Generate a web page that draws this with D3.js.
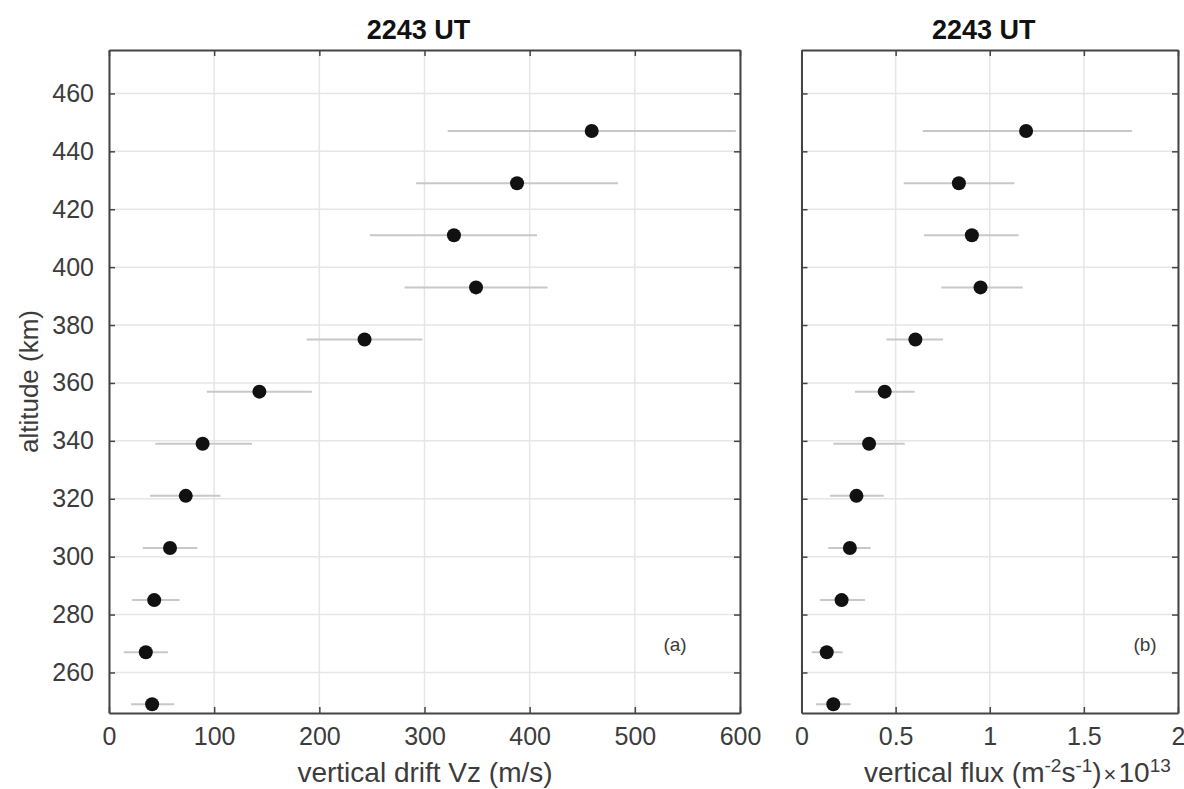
<!DOCTYPE html>
<html>
<head>
<meta charset="utf-8">
<script src="https://cdn.jsdelivr.net/npm/d3@7"></script>
<style>
  body { margin: 0; background: #fff; }
  text { font-family: "Liberation Sans", Arial, sans-serif; }
</style>
</head>
<body>
<svg id="main_chart" width="1184" height="789"></svg>
<script>
// altitude of each sample (km)
const altitudes = [447, 429, 411, 393, 375, 357, 339, 321, 303, 285, 267, 249];

// panel (a): vertical drift Vz (m/s) with error range
const vz   = [459, 388, 328, 349, 243, 143, 89, 73, 58, 43, 35, 41];
const vzLo = [322, 292, 248, 281, 188, 93, 44, 39, 32, 22, 14, 21];
const vzHi = [596, 484, 407, 417, 298, 193, 136, 106, 84, 67, 56, 62];

// panel (b): vertical flux (x 10^13 m^-2 s^-1) with error range
const flux   = [1.193, 0.836, 0.905, 0.951, 0.605, 0.442, 0.359, 0.292, 0.257, 0.213, 0.134, 0.169];
const fluxLo = [0.644, 0.543, 0.651, 0.743, 0.451, 0.284, 0.169, 0.151, 0.142, 0.098, 0.054, 0.077];
const fluxHi = [1.755, 1.131, 1.153, 1.175, 0.752, 0.601, 0.548, 0.437, 0.367, 0.337, 0.218, 0.261];

const yTicks = [260, 280, 300, 320, 340, 360, 380, 400, 420, 440, 460];
const vzTicks = [0, 100, 200, 300, 400, 500, 600];
const fluxTicks = [0, 0.5, 1, 1.5, 2];

const svg = d3.select("#main_chart");
const plotTop = 50, plotBottom = 713;
const textColor = "#3c3c3c";

let yScale = d3.scaleLinear().domain([246, 475]).range([plotBottom, plotTop]);

function panel(opts) {
    let x = d3.scaleLinear().domain(opts.domain).range([opts.left, opts.right]);
    let g = svg.append("g");
    let w = opts.right - opts.left, h = plotBottom - plotTop;

    let clipId = "clip" + opts.id;
    g.append("clipPath").attr("id", clipId)
        .append("rect").attr("x", opts.left).attr("y", plotTop).attr("width", w).attr("height", h);

    // grid
    g.append("g").selectAll("line").data(opts.ticks).enter().append("line")
        .attr("x1", d => x(d)).attr("x2", d => x(d))
        .attr("y1", plotTop).attr("y2", plotBottom)
        .attr("stroke", "#e6e6e6").attr("stroke-width", 1.5);
    g.append("g").selectAll("line").data(yTicks).enter().append("line")
        .attr("x1", opts.left).attr("x2", opts.right)
        .attr("y1", d => yScale(d)).attr("y2", d => yScale(d))
        .attr("stroke", "#e6e6e6").attr("stroke-width", 1.5);

    let rows = altitudes.map((a, i) => ({alt: a, v: opts.vals[i], lo: opts.lo[i], hi: opts.hi[i]}));
    let marks = g.append("g").attr("clip-path", "url(#" + clipId + ")");

    // error bars
    marks.selectAll("line.err").data(rows).enter().append("line")
        .attr("class", "err")
        .attr("x1", d => x(d.lo)).attr("x2", d => x(d.hi))
        .attr("y1", d => yScale(d.alt)).attr("y2", d => yScale(d.alt))
        .attr("stroke", "#c8c8c8").attr("stroke-width", 2);

    // points
    marks.selectAll("circle").data(rows).enter().append("circle")
        .attr("cx", d => x(d.v)).attr("cy", d => yScale(d.alt))
        .attr("r", 7).attr("fill", "#111");

    // axes (ticks inside, box on)
    let axColor = "#444";
    let ax = [
        {gen: d3.axisBottom(x).tickValues(opts.ticks).tickFormat(d3.format("~g")), tr: [0, plotBottom], labels: true, pad: 14},
        {gen: d3.axisTop(x).tickValues(opts.ticks), tr: [0, plotTop], labels: false, pad: 14},
        {gen: d3.axisLeft(yScale).tickValues(yTicks), tr: [opts.left, 0], labels: opts.yLabels, pad: 15},
        {gen: d3.axisRight(yScale).tickValues(yTicks), tr: [opts.right, 0], labels: false, pad: 15}
    ];
    ax.forEach(a => {
        let ag = g.append("g")
            .attr("transform", "translate(" + a.tr[0] + "," + a.tr[1] + ")")
            .call(a.gen.tickSizeInner(-6).tickSizeOuter(0).tickPadding(a.pad));
        ag.select(".domain").attr("stroke", axColor).attr("stroke-width", 2);
        ag.selectAll(".tick line").attr("stroke", axColor).attr("stroke-width", 1.5);
        ag.selectAll(".tick text")
            .attr("fill", textColor)
            .style("font-size", "25px")
            .style("display", a.labels ? null : "none");
    });

    // title
    g.append("text")
        .attr("x", (opts.left + opts.right) / 2 - 6).attr("y", 39)
        .attr("text-anchor", "middle")
        .attr("font-weight", "bold").attr("font-size", 27).attr("fill", "#111")
        .text("2243 UT");

    // panel tag
    g.append("text")
        .attr("x", opts.tagX).attr("y", 651)
        .attr("text-anchor", "middle")
        .attr("font-size", 19).attr("fill", textColor)
        .text(opts.tag);

    return x;
}

panel({id: "a", left: 109, right: 740, domain: [0, 600], ticks: vzTicks,
       vals: vz, lo: vzLo, hi: vzHi, yLabels: true, tag: "(a)", tagX: 675});
panel({id: "b", left: 801.5, right: 1178, domain: [0, 2], ticks: fluxTicks,
       vals: flux, lo: fluxLo, hi: fluxHi, yLabels: false, tag: "(b)", tagX: 1145});

// axis labels
svg.append("text")
    .attr("x", 425).attr("y", 782)
    .attr("text-anchor", "middle").attr("font-size", 28).attr("fill", textColor)
    .text("vertical drift Vz (m/s)");

let fl = svg.append("text")
    .attr("x", 864).attr("y", 782)
    .attr("font-size", 28).attr("fill", textColor);
fl.append("tspan").text("vertical flux (m");
fl.append("tspan").attr("dy", -10).attr("font-size", 19).text("-2");
fl.append("tspan").attr("dy", 10).text("s");
fl.append("tspan").attr("dy", -10).attr("font-size", 19).text("-1");
fl.append("tspan").attr("dy", 10).text(")");
fl.append("tspan").attr("dx", 2).attr("font-size", 22).text("\u00d7");
fl.append("tspan").attr("dx", 2).text("10");
fl.append("tspan").attr("dy", -10).attr("font-size", 19).text("13");

svg.append("text")
    .attr("transform", "translate(38," + ((plotTop + plotBottom) / 2) + ") rotate(-90)")
    .attr("text-anchor", "middle").attr("font-size", 26).attr("fill", textColor)
    .text("altitude (km)");
</script>
</body>
</html>
